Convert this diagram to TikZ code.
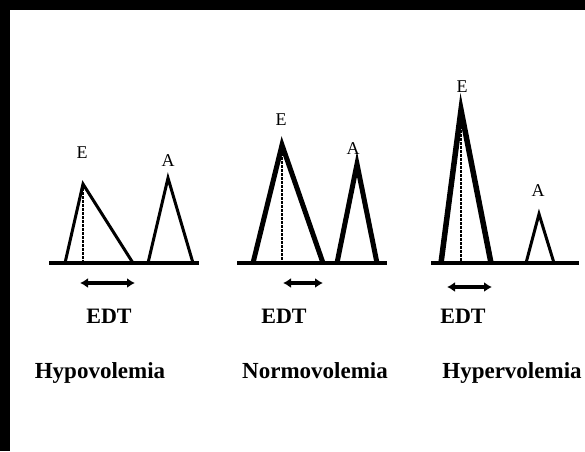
\documentclass[tikz,border=0pt]{standalone}
\usepackage{fontspec}
\setmainfont{Liberation Serif}
\usetikzlibrary{arrows.meta}

\begin{document}
\begin{tikzpicture}[x=1pt, y=-1pt,
    peak/.style={line width=#1, line join=miter},
    peak/.default=3pt,
    base/.style={line width=4pt},
    edt/.style={line width=3.5pt, {Latex[length=8pt,width=10pt]}-{Latex[length=8pt,width=10pt]}},
    mid/.style={line width=2.5pt, dash pattern=on 3pt off 1pt},
    wave/.style={font=\fontsize{18}{20}\selectfont},
    caption/.style={anchor=base, font=\fontsize{#1}{26}\selectfont\bfseries},
    caption/.default=23]
    \useasboundingbox (0,0) rectangle (585,451);
    \fill (0,0) rectangle (585,10);
    \fill (0,0) rectangle (10,451);
    % Hypovolemia
    \draw[base] (49,263) -- (199,263);
    \draw[peak] (65,263) -- (83,184) -- (133,263);
    \draw[mid] (83,184) -- (83,263);
    \draw[peak] (148,263) -- (168,178) -- (193,263);
    \draw[edt] (80,283) -- (135,283);
    \node[wave] (e1) at (82,153) {E};
    \node[wave] (a1) at (168,161) {A};
    \node[caption=22] (edt1) at (109,323) {EDT};
    \node[caption] (hypo) at (100,378) {Hypovolemia};
    % Normovolemia
    \draw[base] (237,263) -- (387,263);
    \draw[peak=5pt] (253,263) -- (282,145) -- (323,263);
    \draw[mid] (282,145) -- (282,263);
    \draw[peak=5pt] (337,263) -- (357,164) -- (377,263);
    \draw[edt] (283,283) -- (323,283);
    \node[wave] (e2) at (281,120) {E};
    \node[wave] (a2) at (353,149) {A};
    \node[caption=22] (edt2) at (284,323) {EDT};
    \node[caption] (normo) at (315,378) {Normovolemia};
    % Hypervolemia
    \draw[base] (431,263) -- (579,263);
    \draw[peak=5.5pt] (441,263) -- (461,110) -- (491,263);
    \draw[mid] (461,110) -- (461,263);
    \draw[peak] (526,263) -- (539,214) -- (554,263);
    \draw[edt] (447,287) -- (492,287);
    \node[wave] (e3) at (462,87) {E};
    \node[wave] (a3) at (538,191) {A};
    \node[caption=22] (edt3) at (463,323) {EDT};
    \node[caption] (hyper) at (512,378) {Hypervolemia};
\end{tikzpicture}
\end{document}
